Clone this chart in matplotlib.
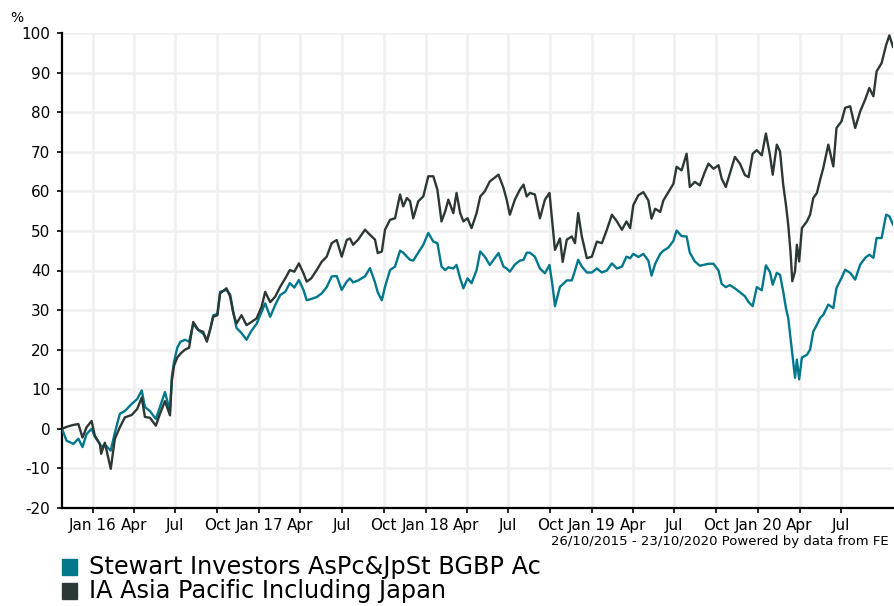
import matplotlib
matplotlib.use('Agg')
import matplotlib.pyplot as plt
import matplotlib.patches as mpatches
import pandas as pd

plt.rcParams['axes.unicode_minus'] = False

# data: days after 26/10/2015, cumulative % growth
start_date = '2015-10-26'
end_date = '2020-10-23'

days = [0, 10, 25, 36, 45, 54, 65, 72, 83, 86, 94, 107, 116, 127, 138, 153, 165, 175, 182, 193,
        206, 215, 226, 237, 241, 246, 253, 260, 270, 279, 288, 299, 310, 318, 325,
        332, 341, 347, 361, 369, 376, 383, 394, 405, 416, 427, 438, 446, 457, 468, 479, 490, 500,
        510, 520, 530, 537, 547, 559, 570, 581, 592, 603, 614, 625, 632,
        639, 650, 665, 676, 687, 693, 702, 709, 720, 731, 742, 749, 757, 764, 771, 782, 793, 804,
        815, 824, 833, 841, 848, 859, 866, 874, 881, 890, 899, 910, 918, 928, 939,
        958, 969, 976, 983, 994, 1005, 1013, 1020, 1027, 1038, 1049, 1060, 1070, 1077, 1082, 1093,
        1099, 1108, 1119, 1126, 1133, 1141, 1152, 1163, 1174, 1185, 1196, 1207, 1218, 1229, 1239, 1247,
        1254, 1265, 1276, 1287, 1294, 1302, 1313, 1320, 1331, 1342, 1349, 1360, 1371, 1378, 1389, 1400,
        1411, 1419, 1430, 1441, 1448, 1457, 1466, 1477, 1488, 1499, 1507, 1516, 1525, 1536, 1545, 1554,
        1560, 1569, 1576, 1583, 1589, 1594, 1599, 1603, 1609, 1613, 1618, 1624, 1635, 1642, 1649, 1657,
        1664, 1671, 1682, 1693, 1700, 1711, 1719, 1730, 1741, 1752, 1763, 1772, 1781, 1788, 1799, 1809,
        1816, 1824]

stewart = [0, -3, -3.8, -2.5, -4.6, -1.3, 0, -2, -3.8, -4.5, -4, -5.5, -1, 3.8, 4.5, 6.3, 7.5, 9.7, 5.5, 4.5,
           2.5, 5.5, 9.3, 4.5, 13, 17, 20.5, 22, 22.5, 22, 26.5, 25, 24, 22.5, 25,
           28.7, 29, 34.6, 35.1, 34, 29.5, 25.5, 24.2, 22.5, 24.8, 26.5, 29.5, 31.7, 28.3, 31.3, 33.8, 34.6, 36.8,
           35.7, 37.6, 35.1, 32.5, 32.8, 33.3, 34.2, 35.8, 38.5, 38.6, 35.1, 37.2, 38,
           37, 37.5, 38.5, 40.6, 37, 34.5, 32.5, 35.9, 40.1, 41, 45, 44.5, 43.5, 42.7, 42.5, 44.5, 46.5, 49.5,
           47.3, 46.9, 41, 40.1, 40.8, 40.5, 41.4, 38, 35.5, 38, 36.8, 40.1, 44.8, 43.5, 41.4,
           44.4, 41, 40.5, 39.7, 41.5, 42.5, 42.7, 44.5, 44.5, 43.5, 40.5, 39.3, 41.4, 35.9, 31, 35.9,
           36.5, 37.5, 37.5, 40, 42.7, 41, 39.5, 39.5, 40.5, 39.5, 40, 41.8, 40.5, 41, 43.5, 43.1,
           44.2, 43.4, 44.2, 42.5, 38.7, 41.7, 44.2, 45, 45.8, 47.5, 50.1, 48.7, 48.6, 44.5, 42.3, 41.2,
           41.5, 41.7, 41.7, 40, 36.6, 35.8, 36.3, 35.5, 34.5, 33.5, 32, 31, 35.8, 35, 41.3, 39.6,
           36.4, 39.4, 38.9, 34.7, 30.5, 28, 23, 19.2, 12.9, 17.5, 12.5, 18, 18.7, 20, 24.6, 26.3,
           28, 28.8, 31.4, 30.5, 35.6, 38.1, 40.2, 39.4, 37.7, 41.5, 43.2, 44, 43.2, 48.2, 48.2, 54.1,
           53.7, 51.6]

ia_asia = [0, 0.5, 1, 1.2, -2.2, 0.4, 2.0, -1.7, -3.8, -6.3, -3.5, -10.1, -2.5, 0.4, 2.9, 3.5, 5.0, 7.9, 3.0, 2.8,
           0.8, 3.8, 7.0, 3.4, 12, 16, 18, 19, 20, 20.5, 27, 25, 24.5, 22, 25,
           28.3, 28.7, 34.2, 35.5, 33.4, 29.2, 26.6, 28.7, 26.2, 27, 27.9, 30.8, 34.6, 32, 33.4, 35.9, 38, 40.1,
           39.7, 41.8, 39.3, 37.2, 38, 40.1, 42.2, 43.5, 46.9, 47.7, 43.5, 47.7, 48.1,
           46.5, 47.8, 50.3, 49, 47.8, 44.4, 44.8, 50.3, 52.8, 53.2, 59.2, 56.2, 58.3, 57.5, 53.2, 57.5, 58.7, 63.8,
           63.8, 60.4, 52.4, 54.9, 57.9, 54.5, 59.6, 54.5, 52.4, 53.2, 50.7, 54.5, 58.7, 60, 62.5,
           64.2, 60.9, 57.9, 54.1, 57.9, 60.4, 61.7, 58.7, 59.6, 59.2, 53.2, 57.9, 59.6, 51.1, 45.2, 48.1,
           42.2, 47.8, 48.6, 46.9, 54.5, 48.6, 43.1, 43.5, 47.3, 46.9, 50.3, 54.1, 52.4, 50.3, 52.4, 50.7,
           56.5, 59, 59.8, 57.7, 53.1, 55.6, 54.8, 57.7, 59.8, 61.9, 66.2, 65.3, 69.5, 61.1, 62.4, 61.5,
           64.9, 67, 65.7, 66.6, 63.2, 61.1, 64.5, 68.7, 67, 64.1, 63.6, 69.5, 70.4, 69.1, 74.6, 69.1,
           64.2, 71.8, 70.1, 61.7, 56.6, 51.6, 44.8, 37.3, 39.8, 46.5, 42.3, 50.7, 52.4, 54.1, 58.3, 59.6,
           62.9, 65.9, 71.8, 66.3, 76, 77.7, 81.1, 81.5, 76, 80.2, 83.2, 86.1, 84, 90.3, 92.4, 97,
           99.4, 96.5]

series_names = ['Stewart Investors AsPc&JpSt BGBP Ac', 'IA Asia Pacific Including Japan']

tick_dates = ['2016-01-01', '2016-04-01', '2016-07-01', '2016-10-01',
              '2017-01-01', '2017-04-01', '2017-07-01', '2017-10-01',
              '2018-01-01', '2018-04-01', '2018-07-01', '2018-10-01',
              '2019-01-01', '2019-04-01', '2019-07-01', '2019-10-01',
              '2020-01-01', '2020-04-01', '2020-07-01']
tick_labels = ['Jan 16', 'Apr', 'Jul', 'Oct', 'Jan 17', 'Apr', 'Jul', 'Oct',
               'Jan 18', 'Apr', 'Jul', 'Oct', 'Jan 19', 'Apr', 'Jul', 'Oct',
               'Jan 20', 'Apr', 'Jul']
y_ticks = [-20, -10, 0, 10, 20, 30, 40, 50, 60, 70, 80, 90, 100]

teal = '#00778b'
dark = '#2c3835'

dates = pd.Timestamp(start_date) + pd.to_timedelta(days, unit='D')

fig = plt.figure(figsize=(8.94, 6.06), dpi=100)
ax = fig.add_axes([62 / 894, 1 - 508 / 606, 831 / 894, 475 / 606])

ax.plot(dates, stewart, color=teal, lw=1.7, zorder=3)
ax.plot(dates, ia_asia, color=dark, lw=1.7, zorder=4)

ax.set_xlim(pd.Timestamp(start_date), pd.Timestamp(end_date))
ax.set_ylim(-20, 100)
ax.set_yticks(y_ticks)
ax.set_xticks(pd.to_datetime(tick_dates))
ax.set_xticklabels(tick_labels)

ax.grid(True, color='#efefef', lw=1.8, zorder=0)
ax.set_axisbelow(True)
for s in ['top', 'right']:
    ax.spines[s].set_visible(False)
for s in ['left', 'bottom']:
    ax.spines[s].set_linewidth(1.6)
    ax.spines[s].set_color('black')
ax.tick_params(axis='y', labelsize=11, length=3.5, width=1.2, pad=5)
ax.tick_params(axis='x', labelsize=11, length=3.5, width=1.2, pad=4)

fig.text(10 / 894, 1 - 18 / 606, '%', fontsize=10, va='center', ha='left')
fig.text(889 / 894, 1 - 542 / 606, '26/10/2015 - 23/10/2020 Powered by data from FE',
         fontsize=9.5, ha='right', va='center')

# legend below chart
for i, (name, col) in enumerate(zip(series_names, [teal, dark])):
    yc = 567 + i * 24
    fig.patches.append(mpatches.Rectangle((62 / 894, 1 - (yc + 8) / 606), 15 / 894, 16 / 606,
                                          transform=fig.transFigure, color=col))
    fig.text(89 / 894, 1 - yc / 606, name, fontsize=17.3, va='center', ha='left')

plt.savefig('out.png', dpi=100)
